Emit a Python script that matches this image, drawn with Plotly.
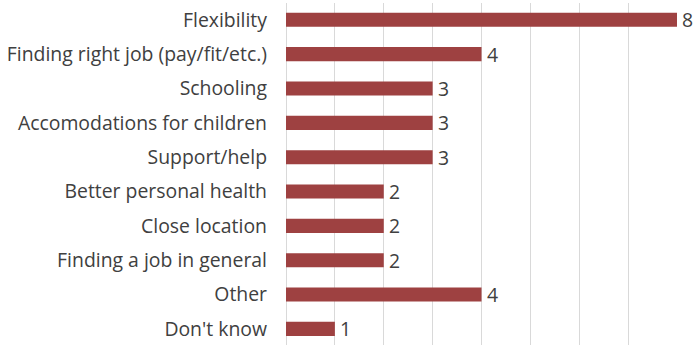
import plotly.graph_objects as go

categories = [
    "Flexibility",
    "Finding right job (pay/fit/etc.)",
    "Schooling",
    "Accomodations for children",
    "Support/help",
    "Better personal health",
    "Close location",
    "Finding a job in general",
    "Other",
    "Don't know",
]
counts = [8, 4, 3, 3, 3, 2, 2, 2, 4, 1]

positions = list(range(len(categories)))
bar_color = "#9E4141"
text_color = "#404040"
font_family = "'Open Sans', sans-serif"
font_size = 19.4

fig = go.Figure(
    go.Bar(
        x=counts,
        y=positions,
        orientation="h",
        marker=dict(color=bar_color, line=dict(width=0)),
        width=0.41,
        hoverinfo="skip",
    )
)

# value labels just past the end of each bar
for pos, val in zip(positions, counts):
    fig.add_annotation(
        x=val,
        y=pos,
        text=str(val),
        showarrow=False,
        xanchor="left",
        yanchor="middle",
        xshift=3,
        font=dict(family=font_family, size=font_size, color=text_color),
    )

fig.update_layout(
    width=694,
    height=345,
    margin=dict(l=286, r=17, t=3, b=0),
    paper_bgcolor="white",
    plot_bgcolor="white",
    showlegend=False,
    font=dict(family=font_family, size=font_size, color=text_color),
    xaxis=dict(
        range=[0, 8],
        tick0=0,
        dtick=1,
        showticklabels=False,
        showgrid=True,
        gridcolor="#D9D9D9",
        gridwidth=1,
        zeroline=True,
        zerolinecolor="#D9D9D9",
        zerolinewidth=1,
        showline=False,
        fixedrange=True,
    ),
    yaxis=dict(
        range=[9.47, -0.49],
        tickvals=positions,
        ticktext=categories,
        showgrid=False,
        zeroline=False,
        showline=False,
        ticks="",
        ticklabelstandoff=18,
        tickfont=dict(family=font_family, size=font_size, color=text_color),
    ),
)

fig.write_html("out.html")
